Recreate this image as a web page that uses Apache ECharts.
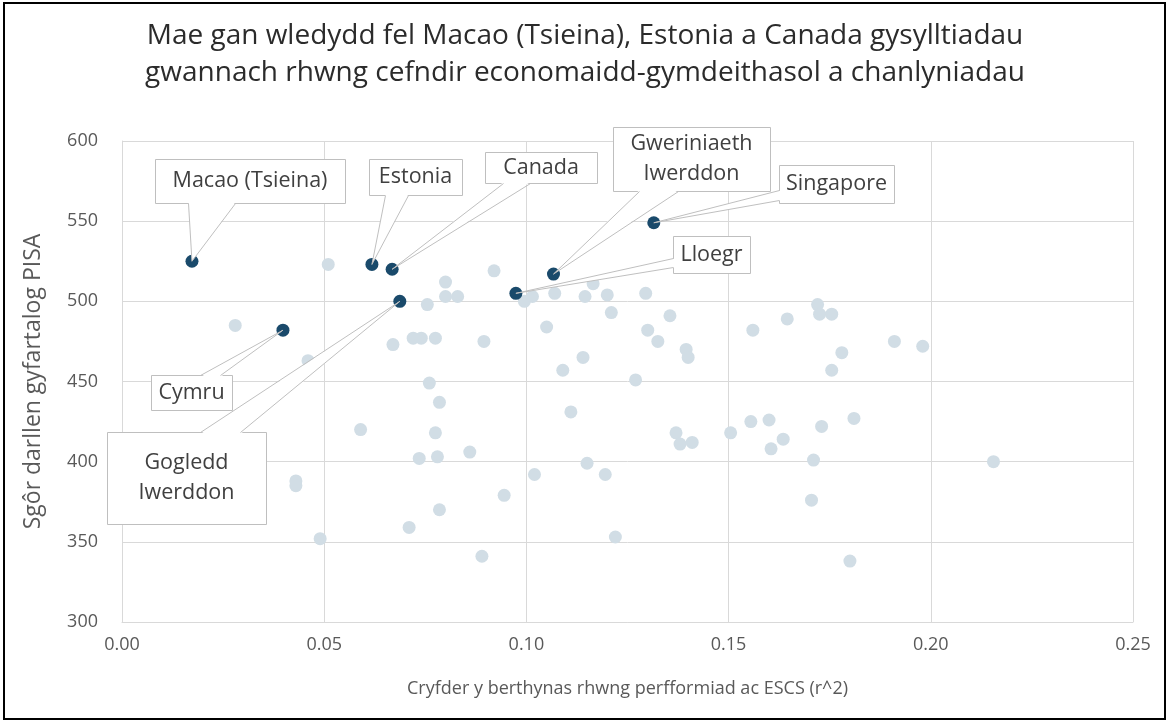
<!DOCTYPE html>
<html>
<head>
<meta charset="utf-8">
<script src="https://cdn.jsdelivr.net/npm/echarts@6/dist/echarts.min.js"></script>
<style>
html,body{margin:0;padding:0;background:#fff;}
#main{width:1170px;height:722px;}
</style>
</head>
<body>
<div id="main"></div>
<script>
// gwledydd eraill (cylchoedd golau)
var otherX = [0.028,0.043,0.043,0.046,0.049,0.051,0.059,0.067,0.072,0.074,
              0.0775,0.071,0.0735,0.0755,0.076,0.0775,0.078,0.0785,0.0785,0.080,
              0.080,0.083,0.086,0.089,0.0895,0.092,0.0945,0.0995,0.1015,0.102,
              0.105,0.107,0.109,0.111,0.114,0.1145,0.115,0.1165,0.1195,0.120,
              0.121,0.122,0.127,0.1295,0.130,0.1325,0.1355,0.137,0.138,0.1395,
              0.140,0.141,0.1505,0.1555,0.156,0.160,0.1605,0.1635,0.1645,0.1705,
              0.171,0.172,0.1725,0.173,0.1755,0.1755,0.178,0.180,0.181,0.191,
              0.198,0.2155];
var otherY = [485,388,385,463,352,523,420,473,477,477,
              477,359,402,498,449,418,403,437,370,512,
              503,503,406,341,475,519,379,500,503,392,
              484,505,457,431,465,503,399,511,392,504,
              493,353,451,505,482,475,491,418,411,470,
              465,412,418,425,482,426,408,414,489,376,
              401,498,492,422,492,457,468,338,427,475,
              472,400];

// gwledydd a enwir (cylchoedd tywyll)
var hlNames = ['Macao (Tsieina)','Estonia','Canada','Gogledd\nIwerddon','Cymru','Lloegr','Gweriniaeth\nIwerddon','Singapore'];
var hlX = [0.0173,0.0618,0.0668,0.0687,0.0398,0.0974,0.1067,0.1315];
var hlY = [525,523,520,500,482,505,517,549];

// lleoliad y blychau label (picseli): x, y, lled, uchder, ochr y pig, pig a, pig b
var calloutBoxes = [
  [155,159,190,44,'bottom',188,235],
  [369,159,93,36,'bottom',385,408],
  [485,152,112,31,'bottom',503,530],
  [107,432,159,92,'top',200,240],
  [151,375,81,35,'top',200,220],
  [673,236,77,37,'left',258,267],
  [613,127,157,64,'bottom',639,678],
  [779,165,115,38,'left',190,200]
];

var FONT = '"Open Sans", Lato, sans-serif';
var myChart = echarts.init(document.getElementById('main'));

var otherData = otherX.map(function (x, i) { return [x, otherY[i]]; });
var hlData = hlX.map(function (x, i) { return [x, hlY[i]]; });

myChart.setOption({
  animation: false,
  title: {
    text: 'Mae gan wledydd fel Macao (Tsieina), Estonia a Canada gysylltiadau\ngwannach rhwng cefndir economaidd-gymdeithasol a chanlyniadau',
    left: 'center',
    top: 13,
    textStyle: { fontFamily: FONT, fontSize: 28, fontWeight: 'normal', color: '#2b2b2b', lineHeight: 37 }
  },
  grid: { left: 122, right: 37, top: 141, bottom: 100 },
  xAxis: {
    type: 'value', min: 0, max: 0.25, interval: 0.05,
    name: 'Cryfder y berthynas rhwng perfformiad ac ESCS (r^2)',
    nameLocation: 'middle', nameGap: 58,
    nameTextStyle: { fontFamily: FONT, fontSize: 18, color: '#595959' },
    axisLine: { show: true, lineStyle: { color: '#d9d9d9' } },
    axisTick: { show: false },
    axisLabel: { fontFamily: FONT, fontSize: 18, color: '#595959', margin: 14,
      formatter: function (v) { return v.toFixed(2); } },
    splitLine: { show: true, lineStyle: { color: '#d9d9d9' } }
  },
  yAxis: {
    type: 'value', min: 300, max: 600, interval: 50,
    name: 'Sgôr darllen gyfartalog PISA',
    nameLocation: 'middle', nameGap: 77,
    nameTextStyle: { fontFamily: FONT, fontSize: 23, color: '#595959' },
    axisLine: { show: true, lineStyle: { color: '#d9d9d9' } },
    axisTick: { show: false },
    axisLabel: { fontFamily: FONT, fontSize: 18, color: '#595959', margin: 24 },
    splitLine: { show: true, lineStyle: { color: '#d9d9d9' } }
  },
  series: [
    { name: 'eraill', type: 'scatter', data: otherData, symbolSize: 13,
      itemStyle: { color: '#d1dde5', opacity: 1 }, emphasis: { disabled: true }, z: 2 },
    { name: 'enwir', type: 'scatter', data: hlData, symbolSize: 13,
      itemStyle: { color: '#1a4a6b', opacity: 1 }, emphasis: { disabled: true }, z: 3 }
  ]
});

// blychau label gyda phig yn pwyntio at y pwynt
var els = [{
  type: 'rect', shape: { x: 4, y: 3, width: 1161, height: 716 },
  style: { fill: null, stroke: '#000', lineWidth: 2 }, z: 200
}];
calloutBoxes.forEach(function (b, i) {
  var x = b[0] + 0.5, y = b[1] + 0.5, w = b[2], h = b[3];
  var tip = myChart.convertToPixel({ gridIndex: 0 }, hlData[i]);
  var p1, p2, q1, q2;
  if (b[4] === 'bottom') {
    p1 = [b[5] + 0.5, y + h]; p2 = [b[6] + 0.5, y + h];
    q1 = [p1[0], p1[1] - 1.5]; q2 = [p2[0], p2[1] - 1.5];
  } else if (b[4] === 'top') {
    p1 = [b[5] + 0.5, y]; p2 = [b[6] + 0.5, y];
    q1 = [p1[0], p1[1] + 1.5]; q2 = [p2[0], p2[1] + 1.5];
  } else {
    p1 = [x, b[5] + 0.5]; p2 = [x, b[6] + 0.5];
    q1 = [p1[0] + 1.5, p1[1]]; q2 = [p2[0] + 1.5, p2[1]];
  }
  els.push({ type: 'rect', shape: { x: x, y: y, width: w, height: h },
    style: { fill: '#fff', stroke: '#bfbfbf', lineWidth: 1 }, z: 100 });
  els.push({ type: 'polygon', shape: { points: [q1, q2, tip] },
    style: { fill: '#fff', stroke: null }, z: 101 });
  els.push({ type: 'polyline', shape: { points: [p1, tip, p2] },
    style: { fill: null, stroke: '#bfbfbf', lineWidth: 1 }, z: 102 });
  els.push({ type: 'text', z: 103,
    style: { x: b[0] + w / 2, y: b[1] + h / 2, text: hlNames[i], align: 'center', verticalAlign: 'middle',
      fontFamily: FONT, fontSize: 21.5, lineHeight: 30, fill: '#404040' } });
});
myChart.setOption({ graphic: { elements: els } });
</script>
</body>
</html>
